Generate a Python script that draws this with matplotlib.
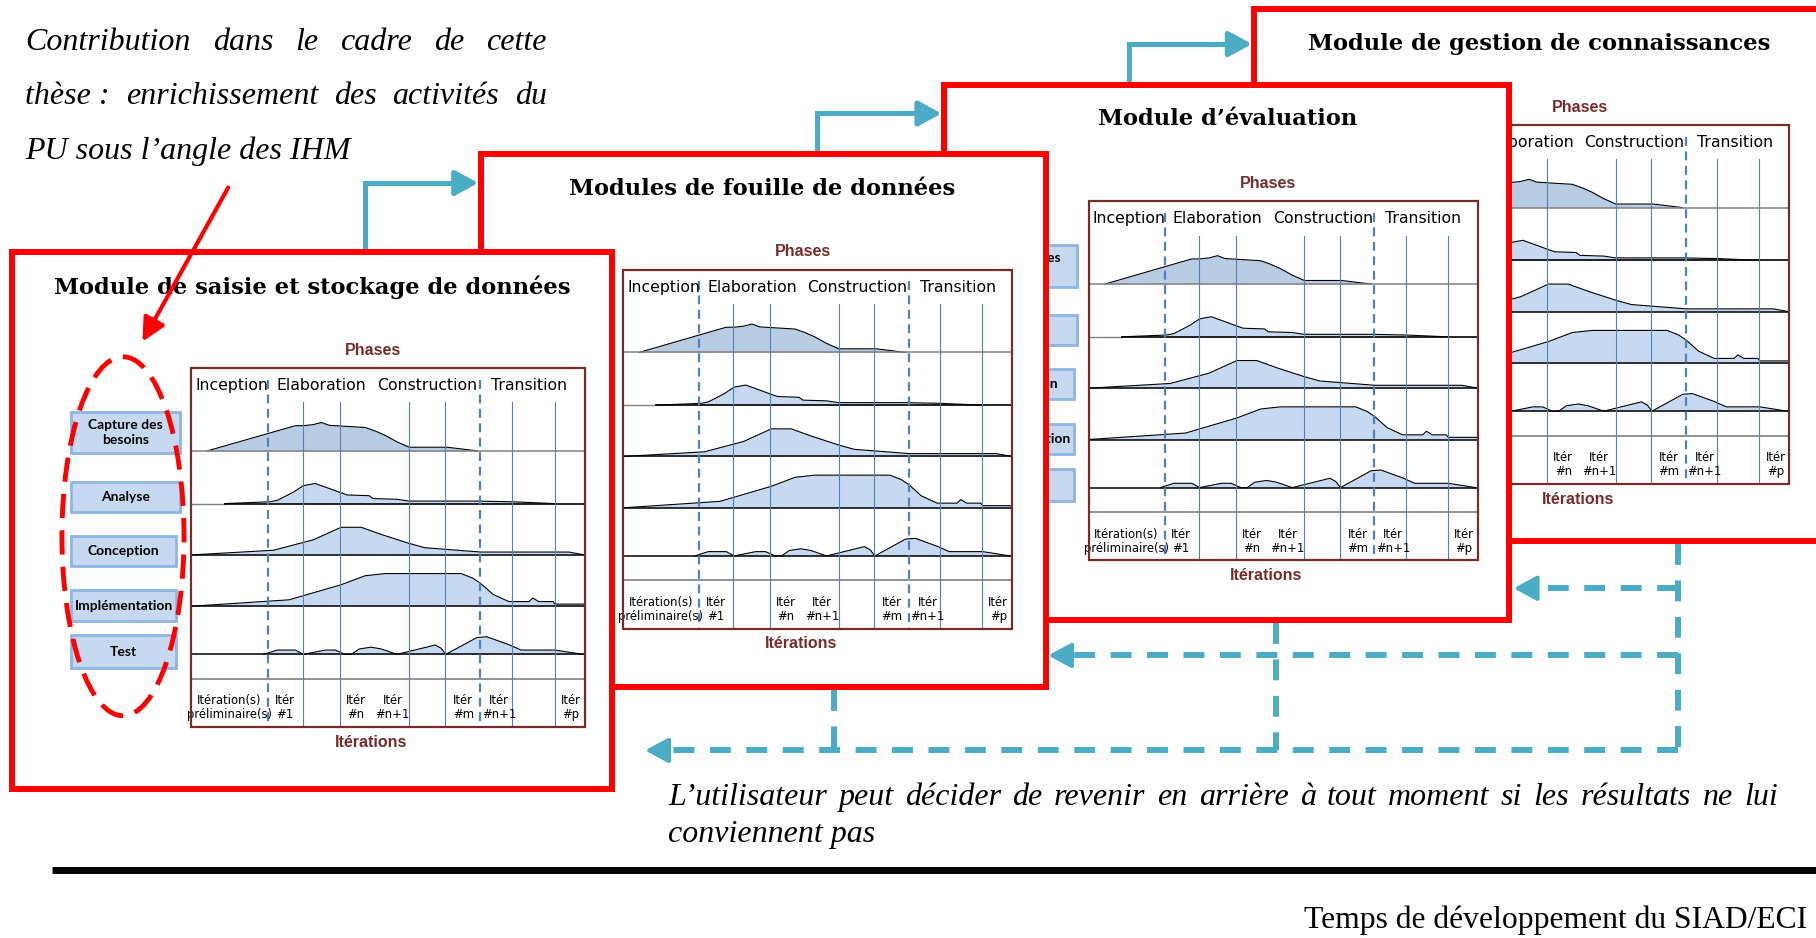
import matplotlib.pyplot as plt
from matplotlib.patches import Rectangle, Ellipse

# ---- values (chart-relative units) ----
# position along a chart (0..1) and hump height (fraction of chart height)
capture_u = [0.042, 0.239, 0.265, 0.285, 0.310, 0.331, 0.351, 0.442, 0.468, 0.493, 0.523, 0.554, 0.650, 0.726]
capture_h = [0, 0.062, 0.070, 0.070, 0.073, 0.079, 0.071, 0.065, 0.055, 0.043, 0.025, 0.010, 0.010, 0]
analyse_u = [0.085, 0.199, 0.219, 0.260, 0.285, 0.315, 0.351, 0.381, 0.397, 0.452, 0.462, 0.523, 0.554, 0.726, 0.817, 0.923]
analyse_h = [0, 0.005, 0.009, 0.032, 0.050, 0.056, 0.042, 0.030, 0.024, 0.022, 0.014, 0.012, 0.007, 0.007, 0.005, 0]
conception_u = [0, 0.209, 0.310, 0.381, 0.432, 0.483, 0.554, 0.594, 0.736, 0.959, 1.0]
conception_h = [0, 0.013, 0.042, 0.077, 0.077, 0.057, 0.032, 0.020, 0.008, 0.008, 0]
implementation_u = [0, 0.249, 0.381, 0.442, 0.493, 0.686, 0.716, 0.736, 0.767, 0.807, 0.858, 0.868, 0.883, 0.919, 0.924, 1.0]
implementation_h = [0, 0.018, 0.060, 0.085, 0.091, 0.091, 0.078, 0.063, 0.033, 0.013, 0.013, 0.023, 0.013, 0.013, 0.006, 0.006]
test_u = [0.184, 0.219, 0.265, 0.285, 0.341, 0.366, 0.391, 0.407, 0.427, 0.457, 0.483, 0.523, 0.620, 0.635, 0.647,
          0.726, 0.751, 0.807, 0.838, 0.924, 0.995]
test_h = [0, 0.012, 0.012, 0, 0.012, 0.012, 0, 0, 0.015, 0.020, 0.015, 0, 0.026, 0.017, 0, 0.047, 0.049, 0.027,
          0.012, 0.012, 0]

activities = ['Capture des\nbesoins', 'Analyse', 'Conception', 'Implémentation', 'Test']
row_v = [0.230, 0.377, 0.520, 0.663, 0.797]
sep_v = 0.865

phase_names = ['Inception', 'Elaboration', 'Construction', 'Transition']
phase_name_u = [0.011, 0.216, 0.473, 0.762]
phase_u = [0.196, 0.734]
iter_u = [0.283, 0.378, 0.554, 0.645, 0.815, 0.923]
iter_labels = ['Itération(s)\npréliminaire(s)', 'Itér\n#1', 'Itér\n#n', 'Itér\n#n+1', 'Itér\n#m', 'Itér\n#n+1', 'Itér\n#p']
iter_label_u = [0.097, 0.237, 0.419, 0.511, 0.691, 0.782, 0.964]

act_u0 = -0.305
act_u1 = [-0.029, -0.029, -0.038, -0.038, -0.038]
act_v = [(0.121, 0.237), (0.316, 0.401), (0.466, 0.551), (0.619, 0.704), (0.744, 0.835)]

module_titles = ['Module de saisie et stockage de données', 'Modules de fouille de données',
                 'Module d’évaluation', 'Module de gestion de connaissances']
frames = [(10, 218, 528, 681), (415, 133, 903, 593), (815, 73, 1303, 535), (1083, 8, 1600, 467)]
charts = [(165, 318, 505, 628), (538, 233, 874, 543), (940, 174, 1276, 484), (1209, 108, 1545, 418)]
title_x = [270, 658, 1060, 1329]

intro = ['Contribution dans le cadre de cette', 'thèse : enrichissement des activités du', 'PU sous l’angle des IHM']
note = ['L’utilisateur peut décider de revenir en arrière à tout moment si les résultats ne lui', 'conviennent pas']
axis_label = 'Temps de développement du SIAD/ECI'

RED = '#ff0000'
CYAN = '#4bacc6'
BROWN = '#772c2a'
LBLUE = '#4f81bd'
FILL = '#c6d9f1'
FILL1 = '#b8cce4'
BOXEDGE = '#8eb4e3'

profiles = [(capture_u, capture_h), (analyse_u, analyse_h), (conception_u, conception_h),
            (implementation_u, implementation_h), (test_u, test_h)]

fig = plt.figure(figsize=(18.16, 9.38), dpi=100)
ax = fig.add_axes([0, 0, 1, 1])
ax.set_xlim(0, 1568)
ax.set_ylim(810, 0)
ax.axis('off')


def draw_chart(c, z):
    x0, y0, x1, y1 = c
    w = x1 - x0
    h = y1 - y0
    X = lambda u: x0 + u * w
    Y = lambda v: y0 + v * h
    ax.text(X(0.462), Y(-0.05), 'Phases', color=BROWN, fontsize=11.5, fontweight='bold',
            family='Liberation Sans', ha='center', va='center', zorder=z + 3)
    ax.text(X(0.457), Y(1.042), 'Itérations', color=BROWN, fontsize=11.5, fontweight='bold',
            family='Liberation Sans', ha='center', va='center', zorder=z + 3)
    for name, u in zip(phase_names, phase_name_u):
        ax.text(X(u), Y(0.048), name, fontsize=11.3, family='DejaVu Sans', ha='left', va='center', zorder=z + 3)
    for k, (us, hs) in enumerate(profiles):
        base = Y(row_v[k])
        xs = [X(u) for u in us]
        ys = [base - hh * h for hh in hs]
        ax.fill_between(xs, ys, base, color=FILL1 if k == 0 else FILL, lw=0, zorder=z + 1)
        ax.plot(xs, ys, color='black', lw=0.8, zorder=z + 2)
        if k == 1:
            ax.plot([x0, xs[0]], [base, base], color='#808080', lw=1.0, zorder=z + 2)
            ax.plot([xs[0], x1], [base, base], color='black', lw=1.2, zorder=z + 2)
        else:
            ax.plot([x0, x1], [base, base], color='#808080' if k == 0 else 'black', lw=1.1, zorder=z + 2)
    ax.plot([x0, x1], [Y(sep_v)] * 2, color='#808080', lw=1.2, zorder=z + 2)
    for u in iter_u:
        ax.plot([X(u)] * 2, [Y(0.095), y1], color=LBLUE, lw=0.8, zorder=z + 2)
    for u in phase_u:
        ax.plot([X(u)] * 2, [Y(0.032), y1], color=LBLUE, lw=1.6, ls=(0, (4, 2.5)), zorder=z + 2)
    for lab, u in zip(iter_labels, iter_label_u):
        ax.text(X(u), Y(0.946), lab, fontsize=8.4, family='DejaVu Sans', ha='center', va='center',
                linespacing=1.1, zorder=z + 3)
    ax.add_patch(Rectangle((x0, y0), w, h, fill=False, ec=BROWN, lw=1.6, zorder=z + 3))
    for name, u1, (va0, va1) in zip(activities, act_u1, act_v):
        ax.add_patch(Rectangle((X(act_u0), Y(va0)), (u1 - act_u0) * w, (va1 - va0) * h,
                               fc=FILL, ec=BOXEDGE, lw=2, zorder=z + 4))
        ax.text(X((act_u0 + u1) / 2), Y((va0 + va1) / 2), name, fontsize=10, fontweight='bold',
                family='Lato', ha='center', va='center', linespacing=1.3, zorder=z + 5)
    return X, Y


# modules, drawn from the back (gestion) to the front (saisie)
for i in range(3, -1, -1):
    z = 10 + (3 - i) * 10
    fx0, fy0, fx1, fy1 = frames[i]
    ax.add_patch(Rectangle((fx0, fy0), fx1 - fx0, fy1 - fy0, fc='white', ec=RED, lw=4.3, zorder=z))
    ax.text(title_x[i], fy0 + 30, module_titles[i], fontsize=16.3, fontweight='bold', family='DejaVu Serif',
            ha='center', va='center', zorder=z + 3)
    X, Y = draw_chart(charts[i], z)
    if i == 0:
        ax.add_patch(Ellipse((X(-0.173), Y(0.468)), 0.31 * (charts[0][2] - charts[0][0]),
                             1.0 * (charts[0][3] - charts[0][1]), fill=False, ec=RED, lw=3.5,
                             ls=(0, (5, 2.5)), zorder=z + 6))

# solid cyan links between modules
links = [(315, 218, 158, 413), (705, 133, 98, 813), (975, 73, 38, 1081)]
for xs, ys, yt, xe in links:
    ax.plot([xs, xs, xe - 15], [ys, yt, yt], color=CYAN, lw=3.6, solid_joinstyle='miter', zorder=5)
    ax.annotate('', xy=(xe, yt), xytext=(xe - 20, yt),
                arrowprops=dict(arrowstyle='-|>,head_length=0.7,head_width=0.38', color=CYAN, lw=3.6,
                                mutation_scale=20, shrinkA=0, shrinkB=0), zorder=5)

# dashed feedback paths
dash = (0, (3.5, 2.6))
for xx, yy in [([1449, 1449], [470, 648]), ([1449, 1320], [508, 508]), ([1449, 918], [566, 566]),
               ([1102, 1102], [538, 648]), ([720, 720], [596, 648]), ([1449, 570], [648, 648])]:
    ax.plot(xx, yy, color=CYAN, lw=4.3, ls=dash, zorder=5)
for tip, yt in [(1307, 508), (905, 566), (557, 648)]:
    ax.annotate('', xy=(tip, yt), xytext=(tip + 20, yt),
                arrowprops=dict(arrowstyle='-|>,head_length=0.7,head_width=0.38', color=CYAN, lw=3,
                                mutation_scale=20, shrinkA=0, shrinkB=0), zorder=5)

# red arrow pointing at the activities
ax.annotate('', xy=(123, 295), xytext=(197, 162),
            arrowprops=dict(arrowstyle='-|>,head_length=0.7,head_width=0.35', color=RED, lw=3,
                            mutation_scale=20, shrinkA=0, shrinkB=0), zorder=80)

renderer = fig.canvas.get_renderer()
px = 1568 / 1816


def justify(words, x0, x1, y, **kw):
    ts = [ax.text(x0, y, wd, ha='left', va='center', **kw) for wd in words]
    ws = [t.get_window_extent(renderer).width * px for t in ts]
    gap = (x1 - x0 - sum(ws)) / (len(ws) - 1)
    x = x0
    for t, wd in zip(ts, ws):
        t.set_x(x)
        x += wd + gap


serif_it = dict(fontsize=23, family='Liberation Serif', style='italic', zorder=90)
justify(intro[0].split(), 22, 472, 37, **serif_it)
justify(['thèse :', 'enrichissement', 'des', 'activités', 'du'], 22, 472, 83, **serif_it)
ax.text(22, 131, intro[2], ha='left', va='center', **serif_it)

justify(note[0].split(), 577, 1535, 689, **serif_it)
ax.text(577, 721, note[1], ha='left', va='center', **serif_it)

ax.plot([45, 1568], [751, 751], color='black', lw=5, solid_capstyle='butt')
ax.text(1126, 795, axis_label, fontsize=22.8, family='Liberation Serif', ha='left', va='center')

fig.savefig('out.png', dpi=100)
